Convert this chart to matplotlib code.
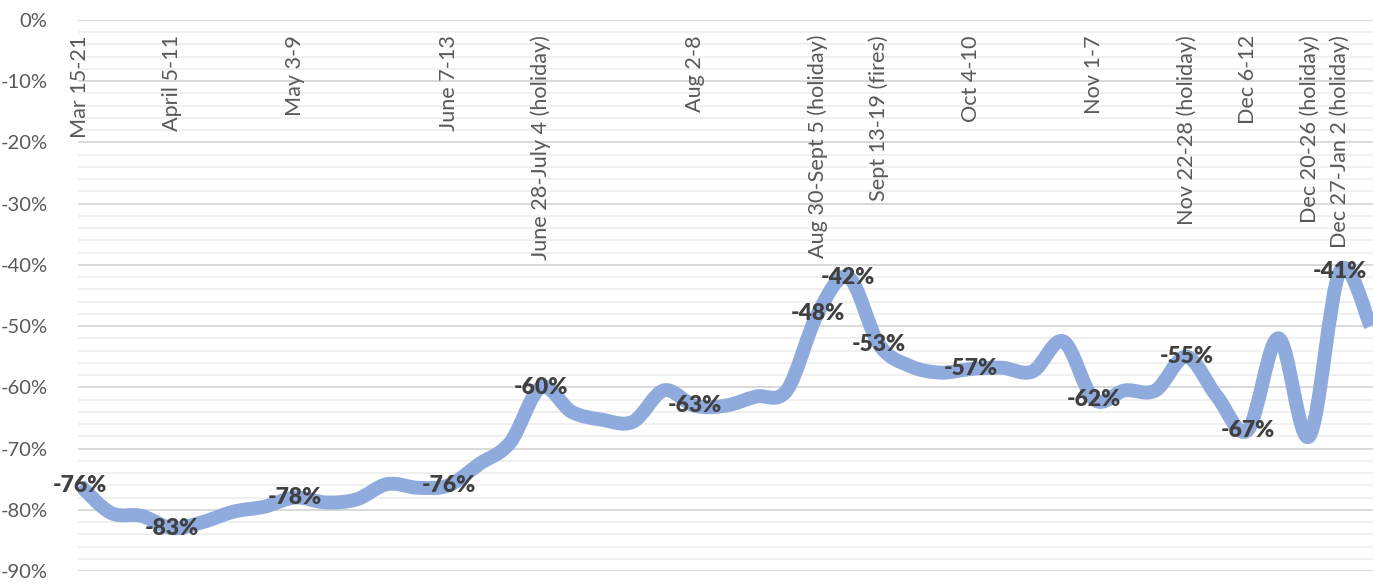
import matplotlib
matplotlib.use("Agg")
import matplotlib.pyplot as plt
from matplotlib.path import Path
from matplotlib.patches import PathPatch
from matplotlib.ticker import MultipleLocator

plt.rcParams['font.family'] = ['Lato', 'DejaVu Sans']

# weekly change vs. last year, in percent
values = [-76, -80.5, -81, -83, -82, -80.3, -79.5, -78, -78.8, -78.3,
          -75.8, -76.4, -76, -72.5, -69, -60, -64, -65.3, -65.6, -60.5,
          -63, -63, -61.5, -60.5, -48, -42, -53, -56.5, -57.6, -57,
          -56.8, -57.4, -52.5, -62, -60.5, -60.5, -55, -61.5, -67, -52,
          -68, -41, -50]

week_labels = [""] * len(values)
week_labels[0] = "Mar 15-21"
week_labels[3] = "April 5-11"
week_labels[7] = "May 3-9"
week_labels[12] = "June 7-13"
week_labels[15] = "June 28-July 4 (holiday)"
week_labels[20] = "Aug 2-8"
week_labels[24] = "Aug 30-Sept 5 (holiday)"
week_labels[26] = "Sept 13-19 (fires)"
week_labels[29] = "Oct 4-10"
week_labels[33] = "Nov 1-7"
week_labels[36] = "Nov 22-28 (holiday)"
week_labels[38] = "Dec 6-12"
week_labels[40] = "Dec 20-26 (holiday)"
week_labels[41] = "Dec 27-Jan 2 (holiday)"

# weeks that get a value label
labeled = [0, 3, 7, 12, 15, 20, 24, 25, 26, 29, 33, 36, 38, 41]

yticks = [0, -10, -20, -30, -40, -50, -60, -70, -80, -90]

line_color = '#8faadc'
text_gray = '#595959'


def smooth_path(xs, ys):
    # excel-like smoothed line: catmull-rom turned into cubic beziers
    n = len(xs)
    verts = [(xs[0], ys[0])]
    codes = [Path.MOVETO]
    for i in range(n - 1):
        x0, y0 = (xs[i - 1], ys[i - 1]) if i > 0 else (xs[i], ys[i])
        x1, y1 = xs[i], ys[i]
        x2, y2 = xs[i + 1], ys[i + 1]
        x3, y3 = (xs[i + 2], ys[i + 2]) if i + 2 < n else (x2, y2)
        verts += [(x1 + (x2 - x0) / 6, y1 + (y2 - y0) / 6),
                  (x2 - (x3 - x1) / 6, y2 - (y3 - y1) / 6),
                  (x2, y2)]
        codes += [Path.CURVE4] * 3
    return Path(verts, codes)


W, H = 1373, 584
fig = plt.figure(figsize=(W / 100, H / 100), dpi=100)
ax = fig.add_axes([78 / W, (H - 571) / H, (W - 78) / W, (571 - 20) / H])

x = list(range(len(values)))
ax.add_patch(PathPatch(smooth_path(x, values), fill=False, edgecolor=line_color,
                       lw=10, capstyle='butt', joinstyle='round', zorder=3))

ax.set_xlim(-0.065, len(values) - 1 + 0.075)
ax.set_ylim(-90, 0)

ax.set_yticks(yticks)
ax.set_yticklabels([f"{t}%" for t in yticks], color=text_gray, fontsize=14.5)
ax.yaxis.set_minor_locator(MultipleLocator(2))
ax.grid(axis='y', which='major', color='#d9d9d9', lw=1.4, zorder=0)
ax.grid(axis='y', which='minor', color='#f0f0f0', lw=1.4, zorder=0)
ax.tick_params(axis='y', which='both', length=0, pad=22)
ax.set_xticks([])
for s in ax.spines.values():
    s.set_visible(False)
ax.set_axisbelow(True)

for i, lab in enumerate(week_labels):
    if lab:
        ax.annotate(lab, xy=(i, 0), xytext=(0, -15), textcoords='offset pixels',
                    rotation=90, ha='center', va='top', fontsize=15.6,
                    color=text_gray, zorder=2)

for i in labeled:
    ax.text(i, values[i], f"{values[i]:.0f}%", ha='center', va='center',
            fontsize=16.5, fontweight='heavy', color='#404040', zorder=4)

fig.savefig("out.png", dpi=100)
